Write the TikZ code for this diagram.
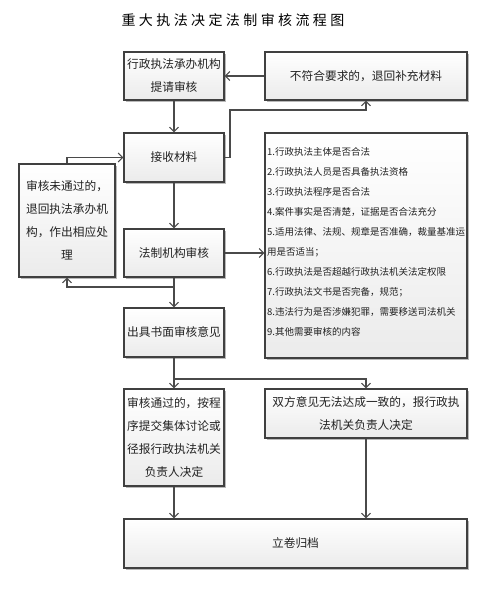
\documentclass[tikz,border=0pt]{standalone}
\usepackage{fontspec}
\setmainfont{Noto Sans CJK SC}
\usetikzlibrary{arrows.meta,shadows}
\definecolor{boxborder}{HTML}{404040}
\definecolor{boxbottom}{HTML}{EBEBEB}
\definecolor{linecol}{HTML}{4A4A4A}
\definecolor{textcol}{HTML}{222222}
\newcommand{\tsp}{\hspace{3.4pt}}
\tikzset{
  box/.style={draw=boxborder, line width=1.1pt, top color=white, bottom color=boxbottom,
    inner sep=0pt, align=center, text=textcol,
    font=\fontsize{11.7}{23}\selectfont,
    drop shadow={shadow xshift=1.6pt, shadow yshift=-1.6pt, fill=gray!55, opacity=1}},
  arr/.style={draw=linecol, line width=1.1pt, -{Straight Barb[length=4.5pt,width=9pt]}},
  ln/.style={draw=linecol, line width=1.1pt},
  titlestyle/.style={font=\fontsize{14}{16}\selectfont, text=black, inner sep=0pt},
  liststyle/.style={font=\fontsize{9.5}{20}\selectfont, text=textcol, align=left, inner sep=0pt}
}
\begin{document}
\begin{tikzpicture}[x=1pt,y=-1pt]
\useasboundingbox (0,0) rectangle (495,597);
\node[titlestyle] (title) at (233,20) {重\tsp 大\tsp 执\tsp 法\tsp 决\tsp 定\tsp 法\tsp 制\tsp 审\tsp 核\tsp 流\tsp 程\tsp 图};

\node[box, minimum width=100pt, minimum height=48pt] (A) at (174,76) {行政执法承办机构\\提请审核};
\node[box, minimum width=202pt, minimum height=48pt] (B) at (366,76) {不符合要求的，退回补充材料};
\node[box, minimum width=100pt, minimum height=49pt] (C) at (174,157.5) {接收材料};
\node[box, minimum width=96pt, minimum height=113pt] (D) at (67,220.5) {审核未通过的，\\退回执法承办机\\构，作出相应处\\理};
\node[box, minimum width=100pt, minimum height=48pt] (E) at (174,253) {法制机构审核};
\node[box, minimum width=202pt, minimum height=225pt] (G) at (366,245.5) {};
\node[liststyle, anchor=north west] (L) at (267,147) {1.行政执法主体是否合法\\2.行政执法人员是否具备执法资格\\3.行政执法程序是否合法\\4.案件事实是否清楚，证据是否合法充分\\5.适用法律、法规、规章是否准确，裁量基准运\\用是否适当；\\6.行政执法是否超越行政执法机关法定权限\\7.行政执法文书是否完备，规范；\\8.违法行为是否涉嫌犯罪，需要移送司法机关\\9.其他需要审核的内容};
\node[box, minimum width=100pt, minimum height=49pt] (F) at (174,332.5) {出具书面审核意见};
\node[box, minimum width=100pt, minimum height=97pt] (H) at (174,437.5) {审核通过的，按程\\序提交集体讨论或\\径报行政执法机关\\负责人决定};
\node[box, minimum width=202pt, minimum height=49pt] (I) at (366,413.5) {双方意见无法达成一致的，报行政执\\法机关负责人决定};
\node[box, minimum width=343pt, minimum height=49pt] (J) at (295.5,543.5) {立卷归档};

\coordinate (c1) at (230,110);
\coordinate (e1) at (174,287);
\coordinate (f1) at (174,379);

\draw[arr] (B.west) -- (A.east);
\draw[arr] (A.south) -- (C.north);
\draw[arr] (C.east) -| (c1) -| (B.south);
\draw[arr] (D.north) |- (C.west);
\draw[arr] (C.south) -- (E.north);
\draw[arr] (E.south) -- (F.north);
\draw[arr] (e1) -| (D.south);
\draw[arr] (E.east) -- (E.east -| G.west);
\draw[ln] (F.south) -- (f1);
\draw[arr] (f1) -- (H.north);
\draw[arr] (f1) -| (I.north);
\draw[arr] (H.south) -- (H.south |- J.north);
\draw[arr] (I.south) -- (I.south |- J.north);
\end{tikzpicture}
\end{document}
